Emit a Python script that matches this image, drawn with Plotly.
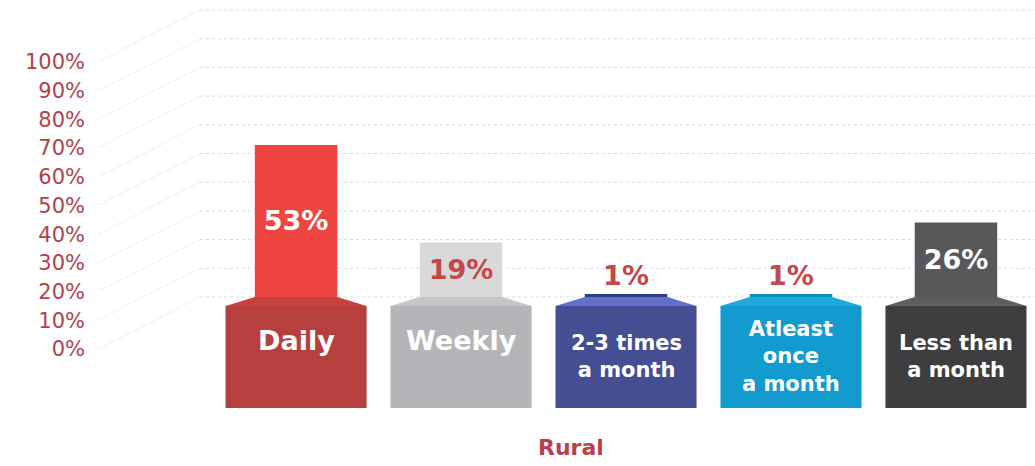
import plotly.graph_objects as go

# ---- data -------------------------------------------------------------
CATEGORIES = ["Daily", "Weekly", "2-3 times<br>a month",
              "Atleast<br>once<br>a month", "Less than<br>a month"]
VALUES = [53, 19, 1, 1, 26]                      # percent of respondents
TICKS = [0, 10, 20, 30, 40, 50, 60, 70, 80, 90, 100]
TICK_LABELS = [f"{t}%" for t in TICKS]
GROUP_TITLE = "Rural"

TOP_COLORS = ["#ef4540", "#d9d9da", "#2f3d8c", "#0e8fc4", "#58585a"]
NECK_COLORS = ["#c7423f", "#c6c7c9", "#6170c9", "#1ea8de", "#5e5e60"]
BLOCK_COLORS = ["#b6403e", "#b4b5b8", "#454e92", "#139bcf", "#3e3e40"]
VALUE_TEXT_COLORS = ["#ffffff", "#c4474a", "#c4474a", "#c4474a", "#ffffff"]

# ---- geometry of the pseudo-3D pedestal bars -------------------------
BAR_W = 0.5          # width of the value column
BLOCK_W = 0.855      # width of the labelled pedestal
NECK_H = 3.1         # height of the sloped shoulder under each column
BLOCK_BOTTOM = -38.7
BLOCK_TOP = -NECK_H
DEPTH = 18.1         # front axis sits this far below the back wall grid
WALL_X0 = -0.582     # where the back wall starts
FRONT_X = -1.2       # where the front (labelled) axis sits

xs = list(range(len(CATEGORIES)))
fig = go.Figure()

# pedestal blocks
fig.add_trace(go.Bar(
    x=xs, y=[BLOCK_TOP - BLOCK_BOTTOM] * len(xs), base=BLOCK_BOTTOM,
    width=BLOCK_W, marker=dict(color=BLOCK_COLORS, line_width=0),
    hoverinfo="skip", showlegend=False))

# sloped shoulders joining the pedestals to the value columns
for i, c in zip(xs, NECK_COLORS):
    fig.add_trace(go.Scatter(
        x=[i - BLOCK_W / 2, i + BLOCK_W / 2, i + BAR_W / 2, i - BAR_W / 2, i - BLOCK_W / 2],
        y=[BLOCK_TOP, BLOCK_TOP, 0, 0, BLOCK_TOP],
        fill="toself", fillcolor=c, mode="lines", line=dict(width=0, color=c),
        hoverinfo="skip", showlegend=False))

# value columns
fig.add_trace(go.Bar(
    x=xs, y=VALUES, base=0, width=BAR_W,
    marker=dict(color=TOP_COLORS, line_width=0),
    text=[f"{v}%" for v in VALUES],
    textposition=["inside" if v >= 10 else "outside" for v in VALUES],
    insidetextanchor="middle", textangle=0, constraintext="none",
    textfont=dict(family="DejaVu Sans", size=27, weight="bold", color=VALUE_TEXT_COLORS),
    cliponaxis=False, hoverinfo="skip", showlegend=False))

# category names inside the pedestals
for i, name in zip(xs, CATEGORIES):
    multi = "<br>" in name
    fig.add_annotation(
        x=i, y=(BLOCK_TOP + BLOCK_BOTTOM) / 2 if multi else -15.0,
        text=name, showarrow=False,
        font=dict(family="DejaVu Sans", size=21 if multi else 27,
                  weight="bold", color="#ffffff"))

# back wall grid and perspective lines back to the front axis
for t in TICKS:
    fig.add_shape(type="line", xref="x", yref="y",
                  x0=WALL_X0, x1=4.48, y0=t, y1=t, layer="below",
                  line=dict(color="#dadada", width=1, dash="dot"))
    fig.add_shape(type="line", xref="x", yref="y",
                  x0=FRONT_X, y0=t - DEPTH, x1=WALL_X0, y1=t, layer="below",
                  line=dict(color="#efefef", width=1))

fig.add_annotation(x=1.667, y=-52.6, text=GROUP_TITLE, showarrow=False,
                   font=dict(family="DejaVu Sans", size=22, weight="bold",
                             color="#b8404a"))

fig.update_layout(
    width=1035, height=466,
    margin=dict(l=90, r=0, t=0, b=0),
    paper_bgcolor="#ffffff", plot_bgcolor="#ffffff",
    barmode="overlay",
    xaxis=dict(range=[-1.249, 4.479], showgrid=False, zeroline=False,
               showticklabels=False, showline=False, fixedrange=True),
    yaxis=dict(range=[-58.9, 103.5], showgrid=False, zeroline=False,
               showline=False, ticks="", ticklabelstandoff=4,
               tickmode="array",
               tickvals=[t - DEPTH for t in TICKS], ticktext=TICK_LABELS,
               tickfont=dict(family="DejaVu Sans", size=21, color="#b3404a"),
               fixedrange=True),
)

fig.write_html("out.html")
